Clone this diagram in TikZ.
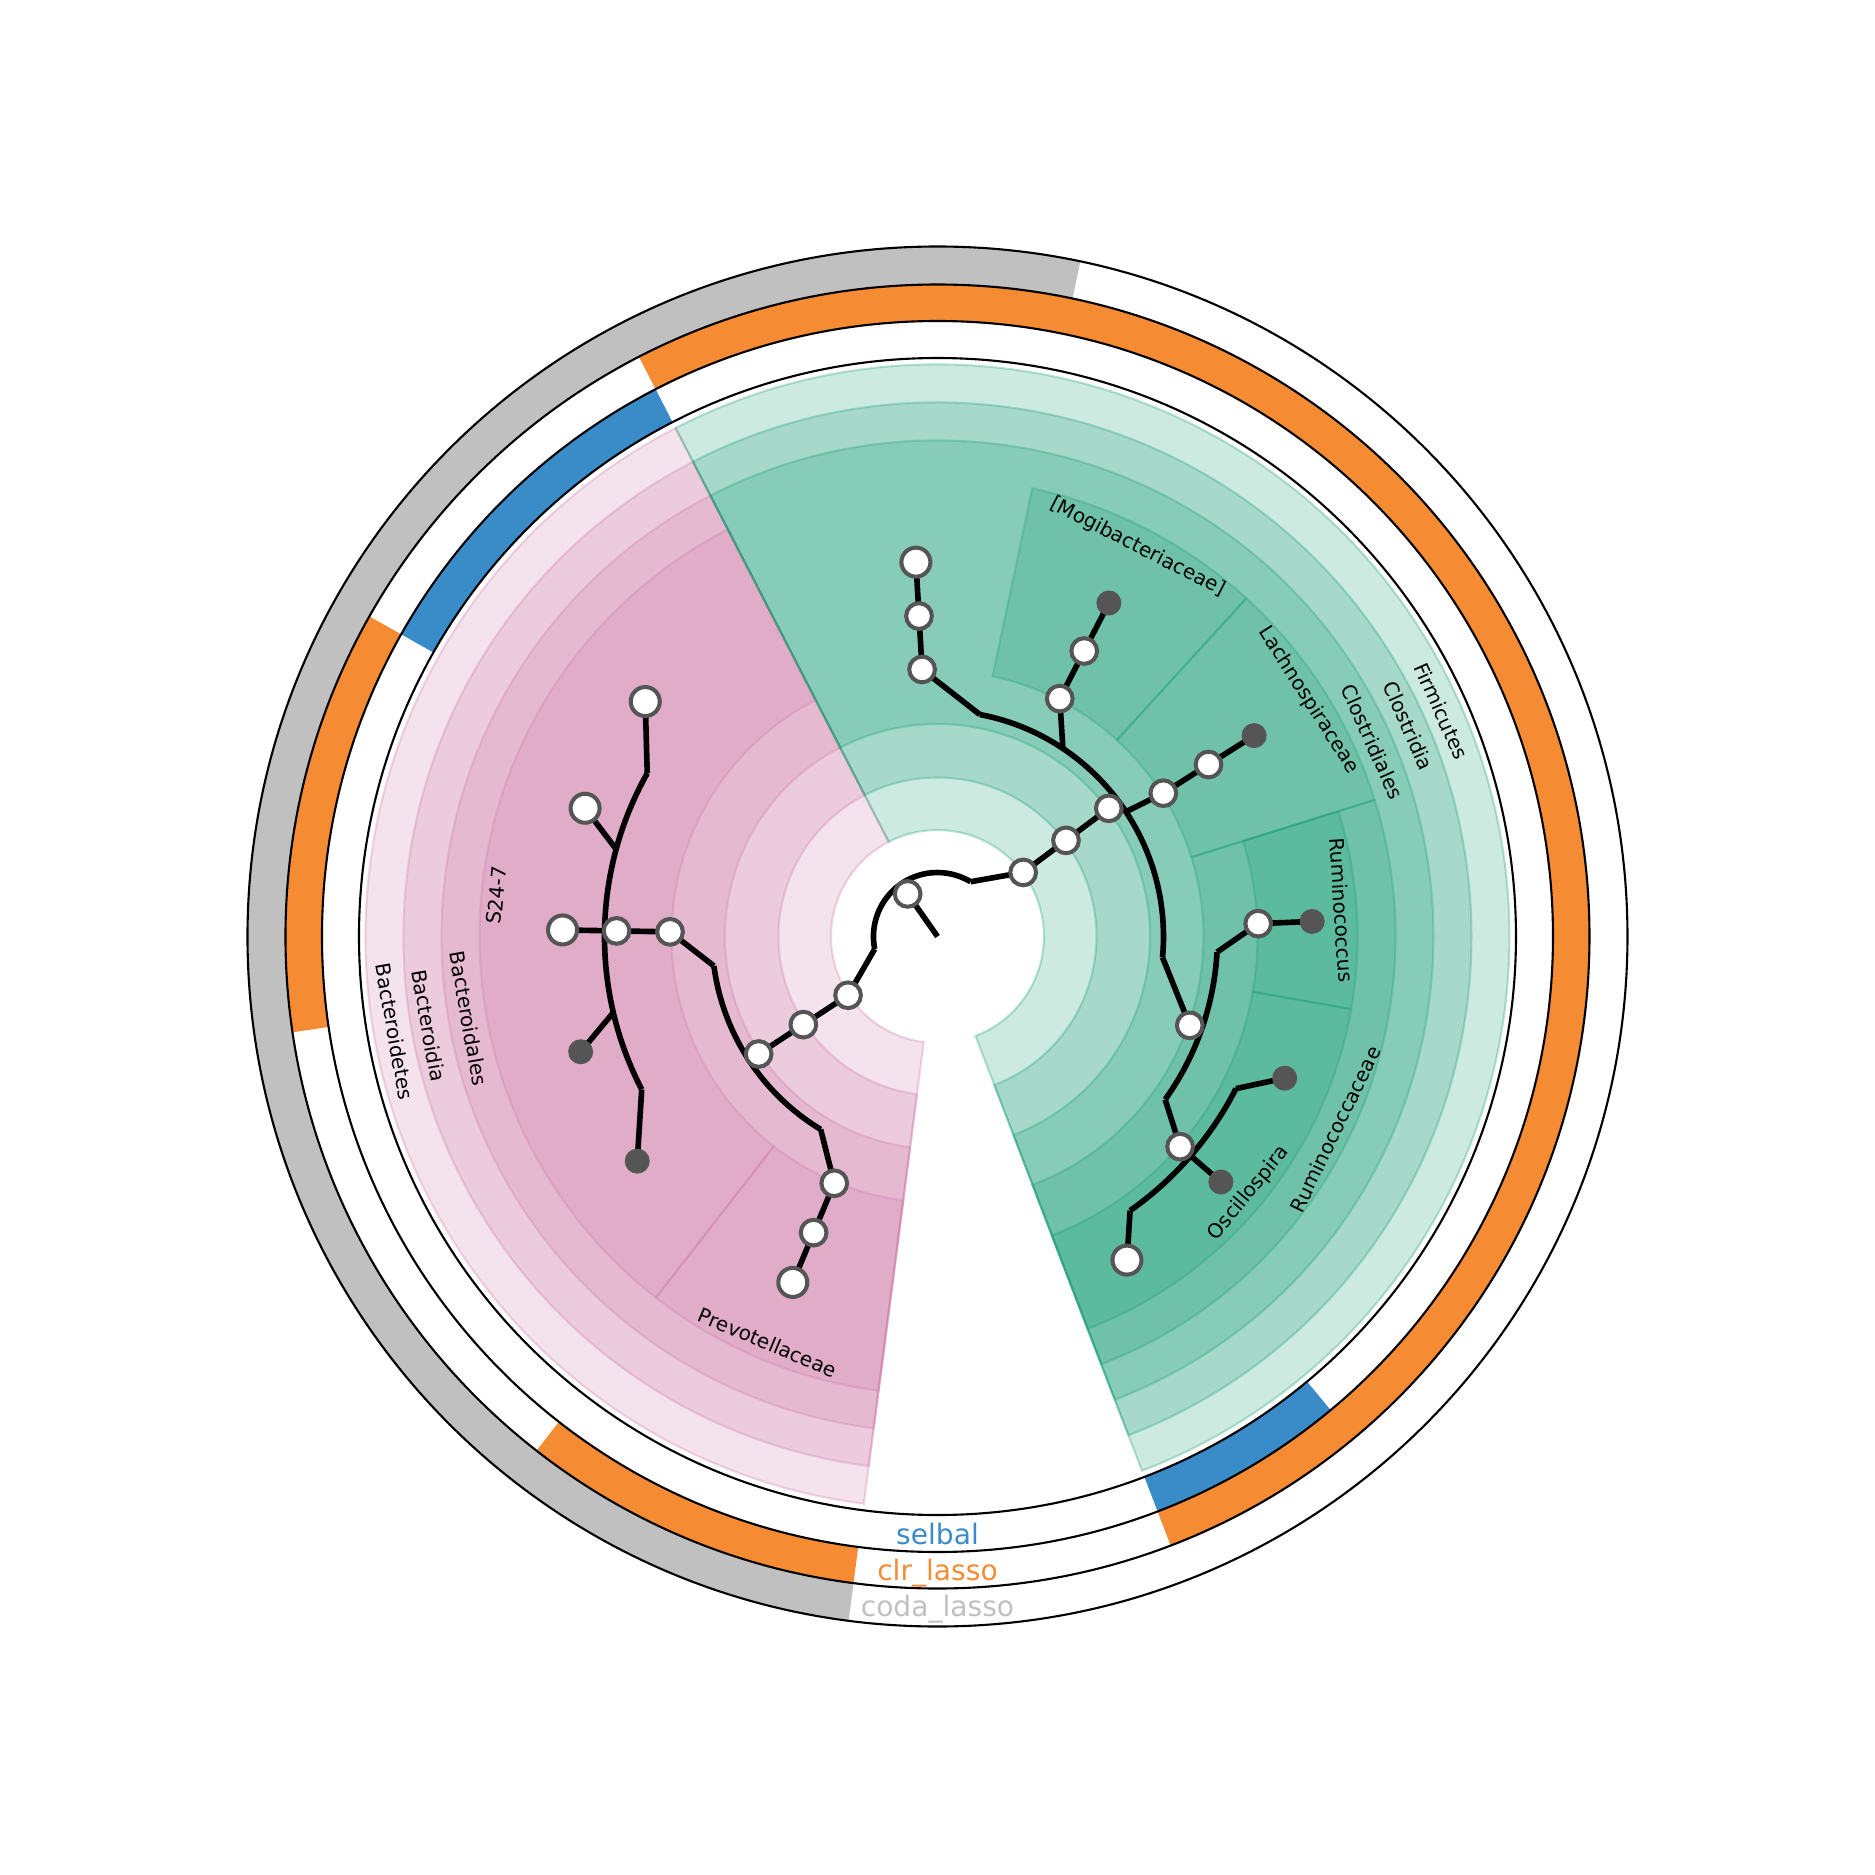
\documentclass[tikz,border=0pt]{standalone}
\usepackage{fontspec}
\setmainfont{DejaVu Sans}
\definecolor{greenc}{HTML}{1B9E77}
\definecolor{pinkc}{RGB}{206,123,168}
\definecolor{selc}{HTML}{3A8CC9}
\definecolor{clrc}{HTML}{F58B33}
\definecolor{codac}{HTML}{C0C0C0}
\definecolor{nodegray}{HTML}{555555}
% annular sector: style, start angle, end angle, inner r, outer r
\newcommand{\annsec}[5]{\path[#1] (#2:#4) arc[start angle=#2,end angle=#3,radius=#4] -- (#3:#5) arc[start angle=#3,end angle=#2,radius=#5] -- cycle;}
\begin{document}
\begin{tikzpicture}[
  wedgeP/.style={fill=pinkc, fill opacity=0.22, draw=pinkc, draw opacity=0.3, line width=0.6pt},
  wedgeG/.style={fill=greenc, fill opacity=0.22, draw=greenc, draw opacity=0.3, line width=0.6pt},
  selseg/.style={fill=selc},
  clrseg/.style={fill=clrc},
  codaseg/.style={fill=codac},
  ringline/.style={draw=black, line width=0.6pt},
  branch/.style={draw=black, line width=1.6pt},
  inode/.style={circle, fill=white, draw=nodegray, line width=1.15pt, minimum size=0.257cm, inner sep=0pt},
  wleaf/.style={inode, minimum size=0.29cm},
  dleaf/.style={circle, fill=nodegray, minimum size=0.25cm, inner sep=0pt},
  clade/.style={font=\fontsize{5.7}{6.8}\selectfont, text=black, inner sep=0pt},
  ringlab/.style={font=\fontsize{8}{9.6}\selectfont, inner sep=0pt, anchor=base}
]
\useasboundingbox (-9.375,-9.385) rectangle (9.375,9.365);

% ---------- clade wedges ----------
\annsec{wedgeP}{117.25}{262.6}{1.065}{5.72}
\annsec{wedgeP}{117.25}{262.6}{1.59}{5.34}
\annsec{wedgeP}{117.25}{262.6}{2.125}{4.96}
\annsec{wedgeP}{117.25}{232.05}{2.66}{4.58}
\annsec{wedgeP}{232.05}{262.6}{2.66}{4.58}
\annsec{wedgeG}{-69.05}{117.25}{1.065}{5.72}
\annsec{wedgeG}{-69.05}{117.25}{1.59}{5.34}
\annsec{wedgeG}{-69.05}{117.25}{2.125}{4.96}
\annsec{wedgeG}{47.6}{78.05}{2.66}{4.58}
\annsec{wedgeG}{17.35}{47.6}{2.66}{4.58}
\annsec{wedgeG}{-69.05}{17.35}{2.66}{4.58}
\annsec{wedgeG}{-9.95}{17.35}{3.20}{4.20}
\annsec{wedgeG}{-69.05}{-9.95}{3.20}{4.20}

% ---------- method rings ----------
\annsec{selseg}{117.25}{150.6}{5.785}{6.155}
\annsec{selseg}{-69.05}{-50.3}{5.785}{6.155}
\annsec{clrseg}{-69.05}{117.25}{6.155}{6.52}
\annsec{clrseg}{150.6}{188.45}{6.155}{6.52}
\annsec{clrseg}{232.05}{262.6}{6.155}{6.52}
\annsec{codaseg}{78.05}{262.6}{6.52}{6.90}
\draw[ringline] (0,0) circle[radius=5.785];
\draw[ringline] (0,0) circle[radius=6.155];
\draw[ringline] (0,0) circle[radius=6.52];
\draw[ringline] (0,0) circle[radius=6.90];

\node[ringlab, text=selc] (lsel) at (0,-6.075) {selbal};
\node[ringlab, text=clrc] (lclr) at (0,-6.435) {clr\_lasso};
\node[ringlab, text=codac] (lcoda) at (0,-6.80) {coda\_lasso};

% ---------- clade labels ----------
\node[clade, rotate=-80.07] (tBdt) at (189.93:5.51) {Bacteroidetes};
\node[clade, rotate=-80.07] (tBdia) at (189.93:5.165) {Bacteroidia};
\node[clade, rotate=-80.07] (tBdales) at (189.93:4.76) {Bacteroidales};
\node[clade, rotate=84.65] (tS24) at (174.65:4.43) {S24-7};
\node[clade, rotate=-22.7] (tPrev) at (247.3:4.40) {Prevotellaceae};
\node[clade, rotate=-65.9] (tFir) at (24.1:5.52) {Firmicutes};
\node[clade, rotate=-65.9] (tClo) at (24.1:5.16) {Clostridia};
\node[clade, rotate=-65.9] (tClos) at (24.1:4.765) {Clostridiales};
\node[clade, rotate=-27.2] (tMog) at (62.8:4.38) {[Mogibacteriaceae]};
\node[clade, rotate=-57.5] (tLac) at (32.5:4.40) {Lachnospiraceae};
\node[clade, rotate=64.15] (tRum) at (-25.85:4.42) {Ruminococcaceae};
\node[clade, rotate=-86.3] (tRumc) at (3.7:4.05) {Ruminococcus};
\node[clade, rotate=50.5] (tOsc) at (-39.5:4.035) {Oscillospira};

% ---------- tree positions ----------
\coordinate (O) at (0,0);
\coordinate (cR0) at (125:0.52);
\coordinate (ra1) at (191.25:0.64);
\coordinate (ra2) at (58.85:0.64);
% pink subtree
\coordinate (cA) at (213.3:1.07);
\coordinate (cB) at (213.3:1.605);
\coordinate (cC) at (213.3:2.14);
\coordinate (ca1) at (187.5:2.255);
\coordinate (ca2) at (238.8:2.255);
\coordinate (cD) at (179:2.675);
\coordinate (cS) at (179:3.21);
\coordinate (sa1) at (150.65:3.33);
\coordinate (sa2) at (164.8:3.33);
\coordinate (sa4) at (193.2:3.33);
\coordinate (sa5) at (207.35:3.33);
\coordinate (cP1) at (141.2:3.75);
\coordinate (cP2) at (160:3.75);
\coordinate (cP3) at (179:3.75);
\coordinate (cP4) at (197.9:3.75);
\coordinate (cP5) at (216.8:3.75);
\coordinate (cE) at (247.3:2.675);
\coordinate (cF) at (247.3:3.21);
\coordinate (cP6) at (247.3:3.75);
% green subtree
\coordinate (cH) at (36.8:1.07);
\coordinate (cI) at (36.8:1.605);
\coordinate (cJ) at (36.8:2.14);
\coordinate (ja1) at (79.2:2.26);
\coordinate (ja2) at (56.3:2.26);
\coordinate (ja3) at (33.5:2.26);
\coordinate (ja4) at (-5.3:2.26);
\coordinate (cK) at (93.3:2.675);
\coordinate (cL) at (93.3:3.21);
\coordinate (cG1) at (93.3:3.75);
\coordinate (cN) at (62.8:2.675);
\coordinate (cOo) at (62.8:3.21);
\coordinate (cG2) at (62.8:3.75);
\coordinate (cP) at (32.4:2.675);
\coordinate (cQ) at (32.4:3.21);
\coordinate (cG3) at (32.4:3.75);
\coordinate (cR) at (-19.4:2.675);
\coordinate (rb1) at (-3.2:2.80);
\coordinate (rb2) at (-35.6:2.80);
\coordinate (cT) at (2.3:3.21);
\coordinate (cG4) at (2.3:3.75);
\coordinate (cU) at (-40.9:3.21);
\coordinate (ub1) at (-27:3.35);
\coordinate (ub3) at (-54.9:3.35);
\coordinate (cG5) at (-22.2:3.75);
\coordinate (cG6) at (-40.9:3.75);
\coordinate (cG7) at (-59.65:3.75);

% ---------- branches ----------
\draw[branch] (O) -- (cR0);
\draw[branch] (ra1) arc[start angle=191.25, end angle=58.85, radius=0.64];
\draw[branch] (ra1) -- (cA) -- (cB) -- (cC);
\draw[branch] (ra2) -- (cH) -- (cI) -- (cJ);
\draw[branch] (ca1) arc[start angle=187.5, end angle=238.8, radius=2.255];
\draw[branch] (ca1) -- (cD) -- (cS) -- (cP3);
\draw[branch] (ca2) -- (cE) -- (cF) -- (cP6);
\draw[branch] (sa1) arc[start angle=150.65, end angle=207.35, radius=3.33];
\draw[branch] (sa1) -- (cP1);
\draw[branch] (sa2) -- (cP2);
\draw[branch] (sa4) -- (cP4);
\draw[branch] (sa5) -- (cP5);
\draw[branch] (ja1) arc[start angle=79.2, end angle=-5.3, radius=2.26];
\draw[branch] (ja1) -- (cK) -- (cL) -- (cG1);
\draw[branch] (ja2) -- (cN) -- (cOo) -- (cG2);
\draw[branch] (ja3) -- (cP) -- (cQ) -- (cG3);
\draw[branch] (ja4) -- (cR);
\draw[branch] (rb1) arc[start angle=-3.2, end angle=-35.6, radius=2.80];
\draw[branch] (rb1) -- (cT) -- (cG4);
\draw[branch] (rb2) -- (cU) -- (cG6);
\draw[branch] (ub1) arc[start angle=-27, end angle=-54.9, radius=3.35];
\draw[branch] (ub1) -- (cG5);
\draw[branch] (ub3) -- (cG7);

% ---------- tree nodes ----------
\node[inode] (R0) at (cR0) {};
\node[inode] (A) at (cA) {};
\node[inode] (B) at (cB) {};
\node[inode] (C) at (cC) {};
\node[inode] (D) at (cD) {};
\node[inode] (S) at (cS) {};
\node[inode] (E) at (cE) {};
\node[inode] (F) at (cF) {};
\node[wleaf] (P1) at (cP1) {};
\node[wleaf] (P2) at (cP2) {};
\node[wleaf] (P3) at (cP3) {};
\node[dleaf] (P4) at (cP4) {};
\node[dleaf] (P5) at (cP5) {};
\node[wleaf] (P6) at (cP6) {};
\node[inode] (H) at (cH) {};
\node[inode] (I) at (cI) {};
\node[inode] (J) at (cJ) {};
\node[inode] (K) at (cK) {};
\node[inode] (L) at (cL) {};
\node[wleaf] (G1) at (cG1) {};
\node[inode] (N) at (cN) {};
\node[inode] (Oo) at (cOo) {};
\node[dleaf] (G2) at (cG2) {};
\node[inode] (P) at (cP) {};
\node[inode] (Q) at (cQ) {};
\node[dleaf] (G3) at (cG3) {};
\node[inode] (R) at (cR) {};
\node[inode] (T) at (cT) {};
\node[dleaf] (G4) at (cG4) {};
\node[inode] (U) at (cU) {};
\node[dleaf] (G5) at (cG5) {};
\node[dleaf] (G6) at (cG6) {};
\node[wleaf] (G7) at (cG7) {};
\end{tikzpicture}
\end{document}
